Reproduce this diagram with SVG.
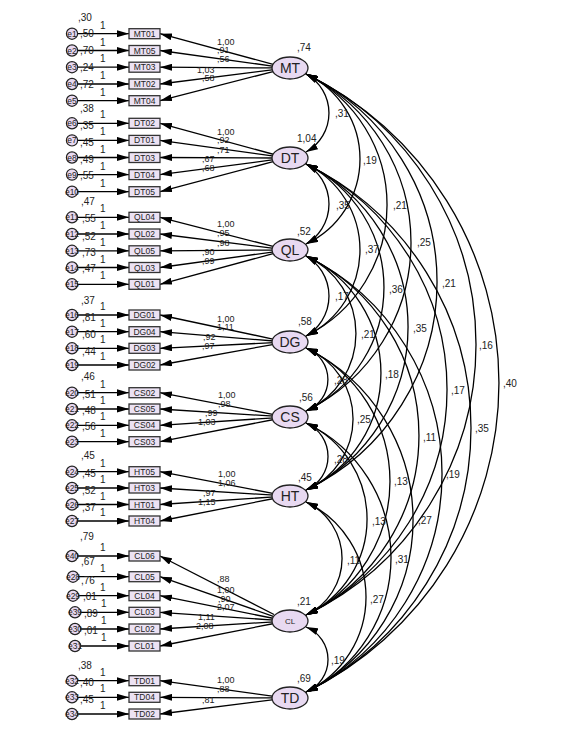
<svg xmlns="http://www.w3.org/2000/svg" width="579" height="749" viewBox="0 0 579 749">
<defs>
<marker id="ah" viewBox="0 0 12 7" refX="12" refY="3.5" markerWidth="12" markerHeight="7" markerUnits="userSpaceOnUse" orient="auto-start-reverse"><path d="M0,0 L12,3.5 L0,7 z" fill="#000"/></marker>
</defs>
<style>
text{font-family:"Liberation Sans",Arial,sans-serif;fill:#222;font-size:10px}
.box{fill:#ECE2F3;stroke:#333;stroke-width:1.3}
.lat{fill:#E8D9F1;stroke:#222;stroke-width:1.3}
.err{fill:#E8D9F1;stroke:#222;stroke-width:1.2}
.bt{font-size:8.5px;text-anchor:middle}
.lt{font-size:14px;text-anchor:middle}
.et{font-size:8.5px;text-anchor:middle}
.ld{font-size:9px}
.ln{stroke:#000;stroke-width:1.3;fill:none;marker-end:url(#ah)}
.cv{stroke:#000;stroke-width:1.3;fill:none;marker-start:url(#ah);marker-end:url(#ah)}
</style>
<rect width="579" height="749" fill="#fff"/>

<g id="connectors">
<line class="ln" x1="78" y1="33.7" x2="129" y2="33.7"/>
<line class="ln" x1="78" y1="50.5" x2="129" y2="50.5"/>
<line class="ln" x1="78" y1="67.2" x2="129" y2="67.2"/>
<line class="ln" x1="78" y1="84" x2="129" y2="84"/>
<line class="ln" x1="78" y1="100.7" x2="129" y2="100.7"/>
<line class="ln" x1="78" y1="123.3" x2="129" y2="123.3"/>
<line class="ln" x1="78" y1="140.4" x2="129" y2="140.4"/>
<line class="ln" x1="78" y1="157.5" x2="129" y2="157.5"/>
<line class="ln" x1="78" y1="174.6" x2="129" y2="174.6"/>
<line class="ln" x1="78" y1="191.7" x2="129" y2="191.7"/>
<line class="ln" x1="78" y1="217.3" x2="129" y2="217.3"/>
<line class="ln" x1="78" y1="234" x2="129" y2="234"/>
<line class="ln" x1="78" y1="250.8" x2="129" y2="250.8"/>
<line class="ln" x1="78" y1="267.5" x2="129" y2="267.5"/>
<line class="ln" x1="78" y1="284.3" x2="129" y2="284.3"/>
<line class="ln" x1="78" y1="315" x2="129" y2="315"/>
<line class="ln" x1="78" y1="331.7" x2="129" y2="331.7"/>
<line class="ln" x1="78" y1="348.3" x2="129" y2="348.3"/>
<line class="ln" x1="78" y1="365" x2="129" y2="365"/>
<line class="ln" x1="78" y1="392.7" x2="129" y2="392.7"/>
<line class="ln" x1="78" y1="409" x2="129" y2="409"/>
<line class="ln" x1="78" y1="425.3" x2="129" y2="425.3"/>
<line class="ln" x1="78" y1="441.7" x2="129" y2="441.7"/>
<line class="ln" x1="78" y1="471.7" x2="129" y2="471.7"/>
<line class="ln" x1="78" y1="488" x2="129" y2="488"/>
<line class="ln" x1="78" y1="504.5" x2="129" y2="504.5"/>
<line class="ln" x1="78" y1="521" x2="129" y2="521"/>
<line class="ln" x1="78" y1="556" x2="129" y2="556"/>
<line class="ln" x1="79" y1="576.7" x2="129" y2="576.7"/>
<line class="ln" x1="79" y1="595.7" x2="129" y2="595.7"/>
<line class="ln" x1="81" y1="612.3" x2="129" y2="612.3"/>
<line class="ln" x1="81" y1="629" x2="129" y2="629"/>
<line class="ln" x1="81" y1="646" x2="129" y2="646"/>
<line class="ln" x1="78" y1="680.7" x2="129" y2="680.7"/>
<line class="ln" x1="78" y1="697.3" x2="129" y2="697.3"/>
<line class="ln" x1="78" y1="714" x2="129" y2="714"/>
<line class="ln" x1="274" y1="64.6" x2="160" y2="33.7"/>
<line class="ln" x1="274" y1="66.3" x2="160" y2="50.5"/>
<line class="ln" x1="274" y1="67.9" x2="160" y2="67.2"/>
<line class="ln" x1="274" y1="69.6" x2="160" y2="84"/>
<line class="ln" x1="274" y1="71.3" x2="160" y2="100.7"/>
<line class="ln" x1="274" y1="154.5" x2="160" y2="123.3"/>
<line class="ln" x1="274" y1="156.2" x2="160" y2="140.4"/>
<line class="ln" x1="274" y1="158" x2="160" y2="157.5"/>
<line class="ln" x1="274" y1="159.7" x2="160" y2="174.6"/>
<line class="ln" x1="274" y1="161.4" x2="160" y2="191.7"/>
<line class="ln" x1="274" y1="246.7" x2="160" y2="217.3"/>
<line class="ln" x1="274" y1="248.4" x2="160" y2="234"/>
<line class="ln" x1="274" y1="250.1" x2="160" y2="250.8"/>
<line class="ln" x1="274" y1="251.8" x2="160" y2="267.5"/>
<line class="ln" x1="274" y1="253.4" x2="160" y2="284.3"/>
<line class="ln" x1="274" y1="339.3" x2="160" y2="315"/>
<line class="ln" x1="274" y1="341" x2="160" y2="331.7"/>
<line class="ln" x1="274" y1="342.6" x2="160" y2="348.3"/>
<line class="ln" x1="274" y1="344.3" x2="160" y2="365"/>
<line class="ln" x1="274" y1="414.6" x2="160" y2="392.7"/>
<line class="ln" x1="274" y1="416.2" x2="160" y2="409"/>
<line class="ln" x1="274" y1="417.8" x2="160" y2="425.3"/>
<line class="ln" x1="274" y1="419.5" x2="160" y2="441.7"/>
<line class="ln" x1="274" y1="493.6" x2="160" y2="471.7"/>
<line class="ln" x1="274" y1="495.2" x2="160" y2="488"/>
<line class="ln" x1="274" y1="496.9" x2="160" y2="504.5"/>
<line class="ln" x1="274" y1="498.5" x2="160" y2="521"/>
<line class="ln" x1="274" y1="614.5" x2="160" y2="556"/>
<line class="ln" x1="274" y1="616.6" x2="160" y2="576.7"/>
<line class="ln" x1="274" y1="618.5" x2="160" y2="595.7"/>
<line class="ln" x1="274" y1="620.1" x2="160" y2="612.3"/>
<line class="ln" x1="274" y1="621.8" x2="160" y2="629"/>
<line class="ln" x1="274" y1="623.5" x2="160" y2="646"/>
<line class="ln" x1="274" y1="696.3" x2="160" y2="680.7"/>
<line class="ln" x1="274" y1="697.9" x2="160" y2="697.3"/>
<line class="ln" x1="274" y1="699.6" x2="160" y2="714"/>
<path class="cv" d="M306,74 A44.6,44.6 0 0 1 306,152"/>
<path class="cv" d="M306,74 A93.9,93.9 0 0 1 306,244"/>
<path class="cv" d="M306,164 A46.3,46.3 0 0 1 306,244"/>
<path class="cv" d="M306,74 A146.4,146.4 0 0 1 306,336"/>
<path class="cv" d="M306,164 A95.5,95.5 0 0 1 306,336"/>
<path class="cv" d="M306,74 A187.7,187.7 0 0 1 306,411"/>
<path class="cv" d="M306,256 A46.3,46.3 0 0 1 306,336"/>
<path class="cv" d="M306,164 A136.8,136.8 0 0 1 306,411"/>
<path class="cv" d="M306,74 A230.6,230.6 0 0 1 306,490"/>
<path class="cv" d="M306,256 A85.1,85.1 0 0 1 306,411"/>
<path class="cv" d="M306,164 A181.2,181.2 0 0 1 306,490"/>
<path class="cv" d="M306,74 A300.2,300.2 0 0 1 306,615"/>
<path class="cv" d="M306,74 A343.9,343.9 0 0 1 306,692"/>
<path class="cv" d="M306,348 A33.6,33.6 0 0 1 306,411"/>
<path class="cv" d="M306,256 A128.8,128.8 0 0 1 306,490"/>
<path class="cv" d="M306,164 A250.8,250.8 0 0 1 306,615"/>
<path class="cv" d="M306,348 A77.1,77.1 0 0 1 306,490"/>
<path class="cv" d="M306,164 A293.7,293.7 0 0 1 306,692"/>
<path class="cv" d="M306,256 A199.1,199.1 0 0 1 306,615"/>
<path class="cv" d="M306,423 A36.5,36.5 0 0 1 306,490"/>
<path class="cv" d="M306,348 A148.1,148.1 0 0 1 306,615"/>
<path class="cv" d="M306,256 A242.7,242.7 0 0 1 306,692"/>
<path class="cv" d="M306,423 A106,106 0 0 1 306,615"/>
<path class="cv" d="M306,348 A191.7,191.7 0 0 1 306,692"/>
<path class="cv" d="M306,502 A62.3,62.3 0 0 1 306,615"/>
<path class="cv" d="M306,423 A148.9,148.9 0 0 1 306,692"/>
<path class="cv" d="M306,502 A105.2,105.2 0 0 1 306,692"/>
<path class="cv" d="M306,627 A35,35 0 0 1 306,692"/>
</g>

<g id="labels">
<text x="100" y="28.7">1</text><text x="100" y="45.5">1</text><text x="100" y="62.2">1</text><text x="100" y="79">1</text><text x="100" y="95.7">1</text>
<text x="100" y="118.3">1</text><text x="100" y="135.4">1</text><text x="100" y="152.5">1</text><text x="100" y="169.6">1</text><text x="100" y="186.7">1</text>
<text x="100" y="212.3">1</text><text x="100" y="229">1</text><text x="100" y="245.8">1</text><text x="100" y="262.5">1</text><text x="100" y="279.3">1</text>
<text x="100" y="310">1</text><text x="100" y="326.7">1</text><text x="100" y="343.3">1</text><text x="100" y="360">1</text>
<text x="100" y="387.7">1</text><text x="100" y="404">1</text><text x="100" y="420.3">1</text><text x="100" y="436.7">1</text>
<text x="100" y="466.7">1</text><text x="100" y="483">1</text><text x="100" y="499.5">1</text><text x="100" y="516">1</text>
<text x="100" y="551">1</text><text x="100" y="571.7">1</text><text x="100" y="590.7">1</text><text x="101" y="607.3">1</text><text x="101" y="624">1</text><text x="101" y="641">1</text>
<text x="100" y="675.7">1</text><text x="100" y="692.3">1</text><text x="100" y="709">1</text>
<g class="ld">
<text class="ld" x="217" y="44.5">1,00</text><text class="ld" x="217" y="52.5">,91</text><text class="ld" x="217" y="62">,56</text><text class="ld" x="197" y="73">1,03</text><text class="ld" x="202" y="80.5">,58</text>
<text class="ld" x="217" y="134.5">1,00</text><text class="ld" x="217" y="143">,92</text><text class="ld" x="217" y="153">,71</text><text class="ld" x="202" y="162">,67</text><text class="ld" x="202" y="171">,68</text>
<text class="ld" x="217" y="226.5">1,00</text><text class="ld" x="217" y="236">,95</text><text class="ld" x="217" y="246">,98</text><text class="ld" x="202" y="255">,90</text><text class="ld" x="202" y="264">,99</text>
<text class="ld" x="217" y="321.5">1,00</text><text class="ld" x="217" y="330">1,11</text><text class="ld" x="203" y="340">,92</text><text class="ld" x="202" y="349">,97</text>
<text class="ld" x="218" y="397.5">1,00</text><text class="ld" x="218" y="407">,98</text><text class="ld" x="205" y="416">,99</text><text class="ld" x="198" y="425">1,03</text>
<text class="ld" x="218" y="476.5">1,00</text><text class="ld" x="218" y="486">1,06</text><text class="ld" x="203" y="496">,97</text><text class="ld" x="198" y="505">1,15</text>
<text class="ld" x="217" y="582">,88</text><text class="ld" x="217" y="592.5">1,00</text><text class="ld" x="218" y="601.5">,90</text><text class="ld" x="217" y="610">2,07</text><text class="ld" x="198" y="620">1,11</text><text class="ld" x="196" y="629">2,08</text>
<text class="ld" x="217" y="683">1,00</text><text class="ld" x="217" y="692">,88</text><text class="ld" x="202" y="703">,81</text>
</g>
<text x="335" y="117">,31</text><text x="363" y="164">,19</text><text x="336" y="209">,35</text><text x="393" y="209">,21</text>
<text x="365" y="253">,37</text><text x="417" y="246">,25</text><text x="335" y="300">,17</text><text x="389" y="293">,36</text>
<text x="442" y="287">,21</text><text x="361" y="338">,21</text><text x="413" y="332">,35</text><text x="479" y="349">,16</text>
<text x="503" y="387">,40</text><text x="334" y="384">,28</text><text x="385" y="378">,18</text><text x="451" y="394">,17</text>
<text x="357" y="423">,25</text><text x="475" y="432">,35</text><text x="423" y="441">,11</text><text x="334" y="463">,28</text>
<text x="394" y="485">,13</text><text x="446" y="478">,19</text><text x="372" y="525">,13</text><text x="418" y="524">,27</text>
<text x="347" y="564">,11</text><text x="395" y="563">,31</text><text x="370" y="603">,27</text><text x="331" y="664">,19</text>
</g>

<g id="MT"><ellipse class="lat" cx="290" cy="68" rx="18" ry="11"/><text class="lt" x="290" y="73">MT</text><text x="297" y="51">,74</text></g>
<g id="DT"><ellipse class="lat" cx="290" cy="158" rx="18" ry="11"/><text class="lt" x="290" y="163">DT</text><text x="297" y="142">1,04</text></g>
<g id="QL"><ellipse class="lat" cx="290" cy="250" rx="18" ry="11"/><text class="lt" x="290" y="255">QL</text><text x="297" y="235">,52</text></g>
<g id="DG"><ellipse class="lat" cx="290" cy="342" rx="18" ry="11"/><text class="lt" x="290" y="347">DG</text><text x="298" y="325">,58</text></g>
<g id="CS"><ellipse class="lat" cx="290" cy="417" rx="18" ry="11"/><text class="lt" x="290" y="422">CS</text><text x="299" y="401">,56</text></g>
<g id="HT"><ellipse class="lat" cx="290" cy="496" rx="18" ry="11"/><text class="lt" x="290" y="501">HT</text><text x="298" y="481">,45</text></g>
<g id="CL"><ellipse class="lat" cx="290" cy="621" rx="18" ry="11"/><text x="290" y="624" style="font-size:8px;text-anchor:middle">CL</text><text x="297" y="605">,21</text></g>
<g id="TD"><ellipse class="lat" cx="290" cy="698" rx="18" ry="11"/><text class="lt" x="290" y="703">TD</text><text x="297" y="682">,69</text></g>

<g id="MT01"><rect class="box" x="129" y="28.7" width="31" height="10"/><text class="bt" x="144.5" y="36.7">MT01</text></g>
<g id="MT05"><rect class="box" x="129" y="45.5" width="31" height="10"/><text class="bt" x="144.5" y="53.5">MT05</text></g>
<g id="MT03"><rect class="box" x="129" y="62.2" width="31" height="10"/><text class="bt" x="144.5" y="70.2">MT03</text></g>
<g id="MT02"><rect class="box" x="129" y="79" width="31" height="10"/><text class="bt" x="144.5" y="87">MT02</text></g>
<g id="MT04"><rect class="box" x="129" y="95.7" width="31" height="10"/><text class="bt" x="144.5" y="103.7">MT04</text></g>
<g id="DT02"><rect class="box" x="129" y="118.3" width="31" height="10"/><text class="bt" x="144.5" y="126.3">DT02</text></g>
<g id="DT01"><rect class="box" x="129" y="135.4" width="31" height="10"/><text class="bt" x="144.5" y="143.4">DT01</text></g>
<g id="DT03"><rect class="box" x="129" y="152.5" width="31" height="10"/><text class="bt" x="144.5" y="160.5">DT03</text></g>
<g id="DT04"><rect class="box" x="129" y="169.6" width="31" height="10"/><text class="bt" x="144.5" y="177.6">DT04</text></g>
<g id="DT05"><rect class="box" x="129" y="186.7" width="31" height="10"/><text class="bt" x="144.5" y="194.7">DT05</text></g>
<g id="QL04"><rect class="box" x="129" y="212.3" width="31" height="10"/><text class="bt" x="144.5" y="220.3">QL04</text></g>
<g id="QL02"><rect class="box" x="129" y="229" width="31" height="10"/><text class="bt" x="144.5" y="237">QL02</text></g>
<g id="QL05"><rect class="box" x="129" y="245.8" width="31" height="10"/><text class="bt" x="144.5" y="253.8">QL05</text></g>
<g id="QL03"><rect class="box" x="129" y="262.5" width="31" height="10"/><text class="bt" x="144.5" y="270.5">QL03</text></g>
<g id="QL01"><rect class="box" x="129" y="279.3" width="31" height="10"/><text class="bt" x="144.5" y="287.3">QL01</text></g>
<g id="DG01"><rect class="box" x="129" y="310" width="31" height="10"/><text class="bt" x="144.5" y="318">DG01</text></g>
<g id="DG04"><rect class="box" x="129" y="326.7" width="31" height="10"/><text class="bt" x="144.5" y="334.7">DG04</text></g>
<g id="DG03"><rect class="box" x="129" y="343.3" width="31" height="10"/><text class="bt" x="144.5" y="351.3">DG03</text></g>
<g id="DG02"><rect class="box" x="129" y="360" width="31" height="10"/><text class="bt" x="144.5" y="368">DG02</text></g>
<g id="CS02"><rect class="box" x="129" y="387.7" width="31" height="10"/><text class="bt" x="144.5" y="395.7">CS02</text></g>
<g id="CS05"><rect class="box" x="129" y="404" width="31" height="10"/><text class="bt" x="144.5" y="412">CS05</text></g>
<g id="CS04"><rect class="box" x="129" y="420.3" width="31" height="10"/><text class="bt" x="144.5" y="428.3">CS04</text></g>
<g id="CS03"><rect class="box" x="129" y="436.7" width="31" height="10"/><text class="bt" x="144.5" y="444.7">CS03</text></g>
<g id="HT05"><rect class="box" x="129" y="466.7" width="31" height="10"/><text class="bt" x="144.5" y="474.7">HT05</text></g>
<g id="HT03"><rect class="box" x="129" y="483" width="31" height="10"/><text class="bt" x="144.5" y="491">HT03</text></g>
<g id="HT01"><rect class="box" x="129" y="499.5" width="31" height="10"/><text class="bt" x="144.5" y="507.5">HT01</text></g>
<g id="HT04"><rect class="box" x="129" y="516" width="31" height="10"/><text class="bt" x="144.5" y="524">HT04</text></g>
<g id="CL06"><rect class="box" x="129" y="551" width="31" height="10"/><text class="bt" x="144.5" y="559">CL06</text></g>
<g id="CL05"><rect class="box" x="129" y="571.7" width="31" height="10"/><text class="bt" x="144.5" y="579.7">CL05</text></g>
<g id="CL04"><rect class="box" x="129" y="590.7" width="31" height="10"/><text class="bt" x="144.5" y="598.7">CL04</text></g>
<g id="CL03"><rect class="box" x="129" y="607.3" width="31" height="10"/><text class="bt" x="144.5" y="615.3">CL03</text></g>
<g id="CL02"><rect class="box" x="129" y="624" width="31" height="10"/><text class="bt" x="144.5" y="632">CL02</text></g>
<g id="CL01"><rect class="box" x="129" y="641" width="31" height="10"/><text class="bt" x="144.5" y="649">CL01</text></g>
<g id="TD01"><rect class="box" x="129" y="675.7" width="31" height="10"/><text class="bt" x="144.5" y="683.7">TD01</text></g>
<g id="TD04"><rect class="box" x="129" y="692.3" width="31" height="10"/><text class="bt" x="144.5" y="700.3">TD04</text></g>
<g id="TD02"><rect class="box" x="129" y="709" width="31" height="10"/><text class="bt" x="144.5" y="717">TD02</text></g>

<g id="e1"><circle class="err" cx="72" cy="33.7" r="5.6"/><text class="et" x="72" y="36.7">e1</text><text x="78" y="21">,30</text></g>
<g id="e2"><circle class="err" cx="72" cy="50.5" r="5.6"/><text class="et" x="72" y="53.5">e2</text><text x="80" y="37">,50</text></g>
<g id="e3"><circle class="err" cx="72" cy="67.2" r="5.6"/><text class="et" x="72" y="70.2">e3</text><text x="80" y="54">,70</text></g>
<g id="e4"><circle class="err" cx="72" cy="84" r="5.6"/><text class="et" x="72" y="87">e4</text><text x="80" y="71">,24</text></g>
<g id="e5"><circle class="err" cx="72" cy="100.7" r="5.6"/><text class="et" x="72" y="103.7">e5</text><text x="80" y="88">,72</text></g>
<g id="e6"><circle class="err" cx="72" cy="123.3" r="5.6"/><text class="et" x="72" y="126.3">e6</text><text x="80" y="112">,38</text></g>
<g id="e7"><circle class="err" cx="72" cy="140.4" r="5.6"/><text class="et" x="72" y="143.4">e7</text><text x="80" y="129">,35</text></g>
<g id="e8"><circle class="err" cx="72" cy="157.5" r="5.6"/><text class="et" x="72" y="160.5">e8</text><text x="80" y="146">,45</text></g>
<g id="e9"><circle class="err" cx="72" cy="174.6" r="5.6"/><text class="et" x="72" y="177.6">e9</text><text x="80" y="162.5">,49</text></g>
<g id="e10"><circle class="err" cx="72" cy="191.7" r="5.6"/><text class="et" x="72" y="194.7">e10</text><text x="80" y="179">,55</text></g>
<g id="e11"><circle class="err" cx="72" cy="217.3" r="5.6"/><text class="et" x="72" y="220.3">e11</text><text x="81" y="205">,47</text></g>
<g id="e12"><circle class="err" cx="72" cy="234" r="5.6"/><text class="et" x="72" y="237">e12</text><text x="82" y="222.3">,55</text></g>
<g id="e13"><circle class="err" cx="72" cy="250.8" r="5.6"/><text class="et" x="72" y="253.8">e13</text><text x="82" y="240">,52</text></g>
<g id="e14"><circle class="err" cx="72" cy="267.5" r="5.6"/><text class="et" x="72" y="270.5">e14</text><text x="82" y="256">,73</text></g>
<g id="e15"><circle class="err" cx="72" cy="284.3" r="5.6"/><text class="et" x="72" y="287.3">e15</text><text x="82" y="272">,47</text></g>
<g id="e16"><circle class="err" cx="72" cy="315" r="5.6"/><text class="et" x="72" y="318">e16</text><text x="81" y="304">,37</text></g>
<g id="e17"><circle class="err" cx="72" cy="331.7" r="5.6"/><text class="et" x="72" y="334.7">e17</text><text x="82" y="321">,81</text></g>
<g id="e18"><circle class="err" cx="72" cy="348.3" r="5.6"/><text class="et" x="72" y="351.3">e18</text><text x="82" y="337.5">,60</text></g>
<g id="e19"><circle class="err" cx="72" cy="365" r="5.6"/><text class="et" x="72" y="368">e19</text><text x="82" y="355">,44</text></g>
<g id="e20"><circle class="err" cx="72" cy="392.7" r="5.6"/><text class="et" x="72" y="395.7">e20</text><text x="81" y="380">,46</text></g>
<g id="e21"><circle class="err" cx="72" cy="409" r="5.6"/><text class="et" x="72" y="412">e21</text><text x="82" y="397.5">,51</text></g>
<g id="e22"><circle class="err" cx="72" cy="425.3" r="5.6"/><text class="et" x="72" y="428.3">e22</text><text x="82" y="414">,48</text></g>
<g id="e23"><circle class="err" cx="72" cy="441.7" r="5.6"/><text class="et" x="72" y="444.7">e23</text><text x="82" y="430">,56</text></g>
<g id="e24"><circle class="err" cx="72" cy="471.7" r="5.6"/><text class="et" x="72" y="474.7">e24</text><text x="81" y="459">,45</text></g>
<g id="e25"><circle class="err" cx="72" cy="488" r="5.6"/><text class="et" x="72" y="491">e25</text><text x="82" y="477">,45</text></g>
<g id="e26"><circle class="err" cx="72" cy="504.5" r="5.6"/><text class="et" x="72" y="507.5">e26</text><text x="82" y="494">,52</text></g>
<g id="e27"><circle class="err" cx="72" cy="521" r="5.6"/><text class="et" x="72" y="524">e27</text><text x="82" y="511">,37</text></g>
<g id="e40"><circle class="err" cx="72" cy="556" r="5.6"/><text class="et" x="72" y="559">e40</text><text x="80" y="540">,79</text></g>
<g id="e28"><circle class="err" cx="73" cy="576.7" r="5.6"/><text class="et" x="73" y="579.7">e28</text><text x="81" y="565">,67</text></g>
<g id="e29"><circle class="err" cx="73" cy="595.7" r="5.6"/><text class="et" x="73" y="598.7">e29</text><text x="81" y="584">,76</text></g>
<g id="e39"><circle class="err" cx="75" cy="612.3" r="5.6"/><text class="et" x="75" y="615.3">e39</text><text x="83" y="600">,01</text></g>
<g id="e30"><circle class="err" cx="75" cy="629" r="5.6"/><text class="et" x="75" y="632">e30</text><text x="84" y="617">,89</text></g>
<g id="e31"><circle class="err" cx="75" cy="646" r="5.6"/><text class="et" x="75" y="649">e31</text><text x="84" y="634">,01</text></g>
<g id="e32"><circle class="err" cx="72" cy="680.7" r="5.6"/><text class="et" x="72" y="683.7">e32</text><text x="78" y="669">,38</text></g>
<g id="e33"><circle class="err" cx="72" cy="697.3" r="5.6"/><text class="et" x="72" y="700.3">e33</text><text x="80" y="686">,40</text></g>
<g id="e34"><circle class="err" cx="72" cy="714" r="5.6"/><text class="et" x="72" y="717">e34</text><text x="80" y="702.7">,45</text></g>
</svg>
